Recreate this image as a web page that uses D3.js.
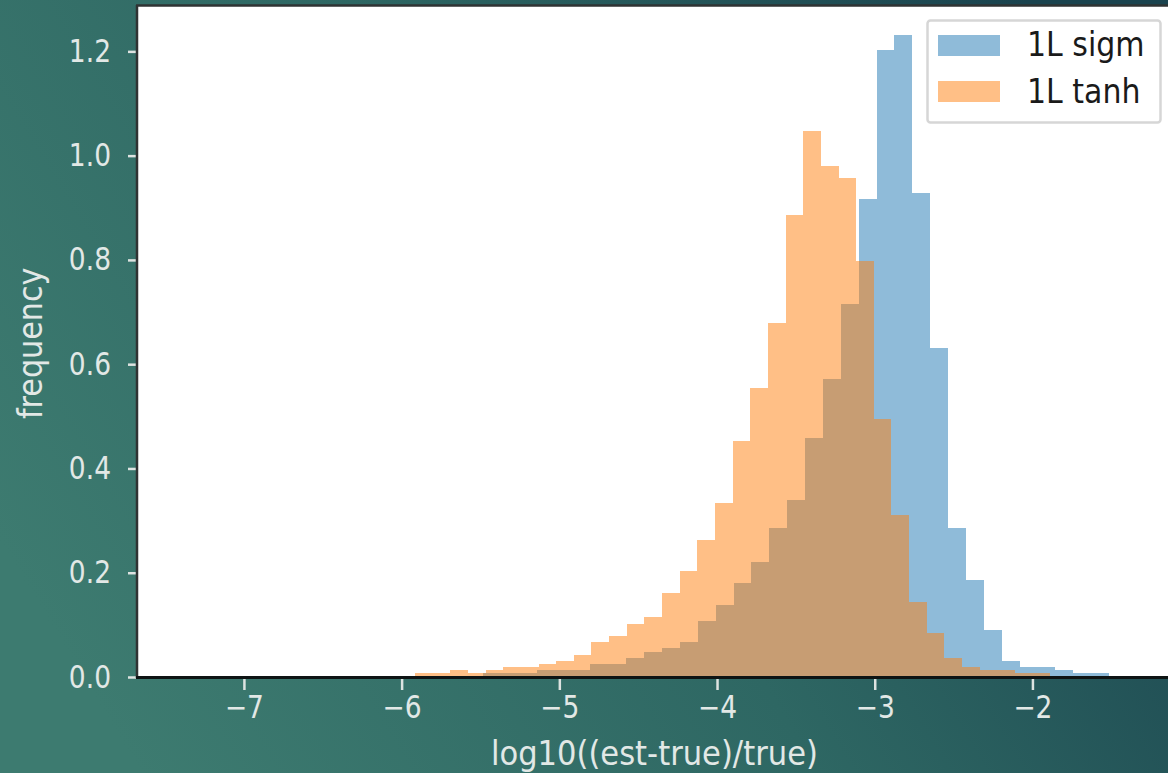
<!DOCTYPE html>
<html>
<head>
<meta charset="utf-8">
<script src="https://cdn.jsdelivr.net/npm/d3@7"></script>
<style>
  html, body { margin: 0; padding: 0; overflow: hidden; }
  body { width: 1168px; height: 773px; }
  text { font-family: "DejaVu Sans", sans-serif; }
</style>
</head>
<body>
<div id="chart"></div>
<script>
// Histogram data (density)
var seriesNames = ["1L sigm", "1L tanh"];

// 1L sigm: bins start at -5.483, width 0.1134
var sigmStart = -5.483;
var sigmWidth = 0.1134;
var sigmValues = [0.008, 0.008, 0.008, 0.013, 0.013, 0.013, 0.025, 0.025, 0.036, 0.048,
                  0.056, 0.067, 0.107, 0.138, 0.180, 0.220, 0.286, 0.339, 0.458, 0.571,
                  0.715, 0.916, 1.202, 1.231, 0.928, 0.631, 0.286, 0.186, 0.090, 0.031,
                  0.019, 0.019, 0.013, 0.008, 0.008];

// 1L tanh: bins start at -5.915, width 0.1119
var tanhStart = -5.915;
var tanhWidth = 0.1119;
var tanhValues = [0.008, 0.008, 0.013, 0.008, 0.013, 0.019, 0.019, 0.025, 0.031, 0.042,
                  0.067, 0.079, 0.102, 0.115, 0.161, 0.203, 0.263, 0.334, 0.452, 0.554,
                  0.679, 0.887, 1.047, 0.981, 0.958, 0.797, 0.494, 0.311, 0.144, 0.084,
                  0.036, 0.019, 0.013, 0.013, 0.008, 0.008];

var xTicks = [-7, -6, -5, -4, -3, -2];
var yTicks = [0, 0.2, 0.4, 0.6, 0.8, 1.0, 1.2];

// turn a series into bins
function toBins(start, width, values) {
    return values.map(function(v, i) {
        return { x0: start + i * width, x1: start + (i + 1) * width, y: v };
    });
}

// the text in the picture is a bit taller than it is wide: keep the width, grow the height
function stretchText(sel, size, factor) {
    sel.style("font-size", size + "px");
    sel.each(function() {
        var w = this.getComputedTextLength();
        d3.select(this)
            .style("font-size", (size * factor) + "px")
            .attr("textLength", w)
            .attr("lengthAdjust", "spacingAndGlyphs");
    });
}

var svgWidth = 1168;
var svgHeight = 773;

var margin = { top: 6, right: -4, bottom: 96, left: 137 };
var width = svgWidth - margin.left - margin.right;
var height = svgHeight - margin.top - margin.bottom;

var svg = d3.select("#chart")
    .append("svg")
    .attr("width", svgWidth)
    .attr("height", svgHeight)
    .style("display", "block");

// background gradient
var grad = svg.append("defs").append("linearGradient")
    .attr("id", "bg")
    .attr("x1", "0").attr("y1", "0.7")
    .attr("x2", "1").attr("y2", "0.3");
grad.append("stop").attr("offset", "0").attr("stop-color", "#3d7b70");
grad.append("stop").attr("offset", "0.5").attr("stop-color", "#2e6763");
grad.append("stop").attr("offset", "1").attr("stop-color", "#1a434e");

svg.append("rect")
    .attr("width", svgWidth)
    .attr("height", svgHeight)
    .attr("fill", "url(#bg)");

var chartGroup = svg.append("g")
    .attr("transform", `translate(${margin.left}, ${margin.top})`);

var xScale = d3.scaleLinear()
    .domain([-7.678, -1.115])
    .range([0, width]);

var yScale = d3.scaleLinear()
    .domain([0, 1.287])
    .range([height, 0]);

// plot area
chartGroup.append("rect")
    .attr("width", width)
    .attr("height", height)
    .attr("fill", "#ffffff");

// bars
var colors = ["#1f77b4", "#ff7f0e"];
var allBins = [toBins(sigmStart, sigmWidth, sigmValues), toBins(tanhStart, tanhWidth, tanhValues)];

allBins.forEach(function(bins, k) {
    chartGroup.append("g")
        .selectAll("rect")
        .data(bins)
        .enter()
        .append("rect")
        .attr("x", d => xScale(d.x0))
        .attr("width", d => xScale(d.x1) - xScale(d.x0))
        .attr("y", d => yScale(d.y))
        .attr("height", d => height - yScale(d.y))
        .attr("fill", colors[k])
        .attr("fill-opacity", 0.5)
        .attr("shape-rendering", "crispEdges");
});

// axes
var xAxis = d3.axisBottom(xScale)
    .tickValues(xTicks)
    .tickSize(13)
    .tickPadding(6)
    .tickFormat(d3.format("d"));

var yAxis = d3.axisLeft(yScale)
    .tickValues(yTicks)
    .tickSize(9)
    .tickPadding(17)
    .tickFormat(d3.format(".1f"));

var gx = chartGroup.append("g")
    .attr("transform", `translate(0, ${height})`)
    .call(xAxis);

var gy = chartGroup.append("g")
    .call(yAxis);

[gx, gy].forEach(function(g) {
    g.select(".domain").remove();
    g.selectAll(".tick line")
        .attr("stroke", "#dde3e1")
        .attr("stroke-width", 2.5);
    g.selectAll(".tick text")
        .attr("fill", "#e2e8e6")
        .style("font-family", "'DejaVu Sans', sans-serif");
    stretchText(g.selectAll(".tick text"), 26.5, 1.18);
});

// spines
chartGroup.append("line")
    .attr("x1", 0).attr("x2", 0)
    .attr("y1", -1).attr("y2", height + 1)
    .attr("stroke", "#2f3333")
    .attr("stroke-width", 2.5);

chartGroup.append("line")
    .attr("x1", -1).attr("x2", width)
    .attr("y1", height + 0.5).attr("y2", height + 0.5)
    .attr("stroke", "#0e1414")
    .attr("stroke-width", 3);

chartGroup.append("line")
    .attr("x1", -1).attr("x2", width)
    .attr("y1", -0.5).attr("y2", -0.5)
    .attr("stroke", "#2f3333")
    .attr("stroke-width", 2.5);

// axis labels
var xLabel = chartGroup.append("text")
    .attr("x", xScale(-4.397))
    .attr("y", height + 88)
    .attr("text-anchor", "middle")
    .attr("fill", "#e2e8e6")
    .text("log10((est-true)/true)");
stretchText(xLabel, 30.6, 1.12);

var yLabel = chartGroup.append("text")
    .attr("transform", "rotate(-90)")
    .attr("x", -(yScale(0.64)))
    .attr("y", 42 - margin.left)
    .attr("text-anchor", "middle")
    .attr("fill", "#e2e8e6")
    .text("frequency");
stretchText(yLabel, 30.2, 1.1);

// legend
var legend = svg.append("g")
    .attr("transform", "translate(927, 20)");

legend.append("rect")
    .attr("x", 0.5).attr("y", 0.5)
    .attr("width", 233)
    .attr("height", 102)
    .attr("rx", 3)
    .attr("fill", "#ffffff")
    .attr("stroke", "#d6d6d6")
    .attr("stroke-width", 2.5);

seriesNames.forEach(function(name, i) {
    legend.append("rect")
        .attr("x", 11)
        .attr("y", 15 + i * 46)
        .attr("width", 62)
        .attr("height", 21)
        .attr("fill", colors[i])
        .attr("fill-opacity", 0.5);
    var t = legend.append("text")
        .attr("x", 100)
        .attr("y", 36 + i * 47)
        .attr("fill", "#1a1a1a")
        .text(name);
    stretchText(t, 30, 1.13);
});
</script>
</body>
</html>
